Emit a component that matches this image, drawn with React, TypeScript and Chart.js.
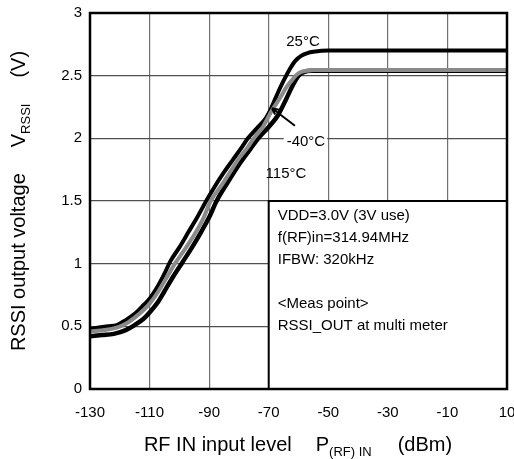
import React, { useEffect, useRef } from "react";
import { Chart, registerables } from "chart.js";

Chart.register(...registerables);

const X_TICKS = [-130, -110, -90, -70, -50, -30, -10, 10];
const Y_TICKS = [0, 0.5, 1, 1.5, 2, 2.5, 3];

// 25°C
const dbm25 = [-130, -127, -124, -121, -118, -115, -112, -110, -107, -105, -103, -100, -97, -94, -91, -88, -85, -82, -79, -77, -74, -71, -69, -67, -65, -63, -61, -59, -57, -55, -50, -40, -20, 0, 10];
const v25 = [0.48, 0.49, 0.5, 0.51, 0.55, 0.6, 0.67, 0.72, 0.83, 0.92, 1.02, 1.13, 1.25, 1.37, 1.5, 1.62, 1.73, 1.83, 1.93, 2.0, 2.08, 2.16, 2.25, 2.36, 2.46, 2.55, 2.62, 2.66, 2.68, 2.69, 2.7, 2.7, 2.7, 2.7, 2.7];

// -40°C
const dbmM40 = [-130, -125, -121, -118, -115, -112, -110, -107, -104, -101.5, -98, -95, -92, -89.5, -86, -83, -80, -77, -75, -72, -69, -66, -64, -62, -60.5, -59, -57, -55, -50, -30, -10, 10];
const vM40 = [0.46, 0.47, 0.49, 0.52, 0.57, 0.63, 0.68, 0.78, 0.9, 1.0, 1.12, 1.23, 1.36, 1.5, 1.62, 1.73, 1.84, 1.93, 2.0, 2.09, 2.22, 2.33, 2.41, 2.47, 2.51, 2.53, 2.54, 2.545, 2.545, 2.545, 2.545, 2.545];

// 115°C
const dbm115 = [-130, -126, -122, -118, -115, -112, -110, -107, -105, -102, -99, -96, -93, -90, -87.5, -84, -80, -76, -73.5, -70, -67, -64, -62, -60, -58, -56, -50, -30, -10, 10];
const v115 = [0.42, 0.43, 0.44, 0.47, 0.51, 0.56, 0.61, 0.7, 0.78, 0.9, 1.01, 1.12, 1.24, 1.37, 1.5, 1.64, 1.79, 1.92, 2.0, 2.09, 2.18, 2.32, 2.42, 2.5, 2.53, 2.54, 2.54, 2.54, 2.54, 2.54];

const BOX_LINES = ["VDD=3.0V (3V use)", "f(RF)in=314.94MHz", "IFBW: 320kHz", "", "<Meas point>", "RSSI_OUT at multi meter"];
const BOX_RANGE = { xMin: -70, xMax: 10, yMin: 0, yMax: 1.5 };

const LABEL_25 = { text: "25°C", x: -58.5, y: 2.77 };
const LABEL_M40 = { text: "-40°C", x: -57.5, y: 1.97 };
const LABEL_115 = { text: "115°C", x: -64.2, y: 1.72 };
const ARROW = { fromX: -61.2, fromY: 2.1, toX: -68.9, toY: 2.24 };

const FONT = "'Liberation Sans', Arial, Helvetica, sans-serif";

const pts = (xs: number[], ys: number[]) => xs.map((x, i) => ({ x, y: ys[i] }));

const overlay = {
  id: "overlay",
  afterDraw(chart: any) {
    const { ctx, chartArea: ca, scales } = chart;
    const xs = scales.x;
    const ys = scales.y;
    ctx.save();

    // info box
    const bx0 = xs.getPixelForValue(BOX_RANGE.xMin);
    const bx1 = xs.getPixelForValue(BOX_RANGE.xMax);
    const by0 = ys.getPixelForValue(BOX_RANGE.yMax);
    const by1 = ys.getPixelForValue(BOX_RANGE.yMin);
    ctx.fillStyle = "#fff";
    ctx.fillRect(bx0, by0, bx1 - bx0, by1 - by0);
    ctx.strokeStyle = "#000";
    ctx.lineWidth = 2;
    ctx.strokeRect(bx0, by0, bx1 - bx0, by1 - by0);
    ctx.fillStyle = "#000";
    ctx.font = `15px ${FONT}`;
    ctx.textBaseline = "middle";
    ctx.textAlign = "left";
    BOX_LINES.forEach((t, i) => {
      if (t) ctx.fillText(t, bx0 + 9, by0 + 15 + i * 22);
    });

    // labels
    const drawLabel = (l: any, bg: boolean) => {
      const px = xs.getPixelForValue(l.x);
      const py = ys.getPixelForValue(l.y);
      ctx.font = `15px ${FONT}`;
      const w = ctx.measureText(l.text).width;
      if (bg) {
        ctx.fillStyle = "#fff";
        ctx.fillRect(px - w / 2 - 3, py - 8, w + 5, 16);
      }
      ctx.fillStyle = "#000";
      ctx.textAlign = "center";
      ctx.textBaseline = "middle";
      ctx.fillText(l.text, px, py);
    };
    drawLabel(LABEL_25, false);
    drawLabel(LABEL_M40, true);
    drawLabel(LABEL_115, false);

    // arrow
    const ax0 = xs.getPixelForValue(ARROW.fromX);
    const ay0 = ys.getPixelForValue(ARROW.fromY);
    const ax1 = xs.getPixelForValue(ARROW.toX);
    const ay1 = ys.getPixelForValue(ARROW.toY);
    ctx.strokeStyle = "#000";
    ctx.lineWidth = 2;
    ctx.beginPath();
    ctx.moveTo(ax0, ay0);
    ctx.lineTo(ax1, ay1);
    const ang = Math.atan2(ay1 - ay0, ax1 - ax0);
    const hl = 7;
    ctx.moveTo(ax1, ay1);
    ctx.lineTo(ax1 - hl * Math.cos(ang - 0.45), ay1 - hl * Math.sin(ang - 0.45));
    ctx.moveTo(ax1, ay1);
    ctx.lineTo(ax1 - hl * Math.cos(ang + 0.45), ay1 - hl * Math.sin(ang + 0.45));
    ctx.stroke();

    // frame
    ctx.lineWidth = 2.5;
    ctx.strokeStyle = "#000";
    ctx.strokeRect(ca.left, ca.top, ca.right - ca.left, ca.bottom - ca.top);

    // titles
    const big = `20px ${FONT}`;
    const small = `13px ${FONT}`;
    const layoutParts = (parts: any[]) => {
      let total = 0;
      parts.forEach((p) => {
        ctx.font = p.f;
        p.w = ctx.measureText(p.t).width;
        total += p.w + p.gap;
      });
      return total;
    };
    ctx.fillStyle = "#000";
    ctx.textAlign = "left";
    ctx.textBaseline = "alphabetic";

    const xParts = [
      { t: "RF IN input level", f: big, dy: 0, gap: 24 },
      { t: "P", f: big, dy: 0, gap: 0 },
      { t: "(RF) IN", f: small, dy: 5, gap: 26 },
      { t: "(dBm)", f: big, dy: 0, gap: 0 },
    ];
    let tot = layoutParts(xParts);
    let cx = 298 - tot / 2;
    xParts.forEach((p: any) => {
      ctx.font = p.f;
      ctx.fillText(p.t, cx, 451 + p.dy);
      cx += p.w + p.gap;
    });

    const yParts = [
      { t: "RSSI output voltage", f: big, dy: 0, gap: 26 },
      { t: "V", f: big, dy: 0, gap: 0 },
      { t: "RSSI", f: small, dy: 5, gap: 26 },
      { t: "(V)", f: big, dy: 0, gap: 0 },
    ];
    tot = layoutParts(yParts);
    ctx.translate(25, 201);
    ctx.rotate(-Math.PI / 2);
    cx = -tot / 2;
    yParts.forEach((p: any) => {
      ctx.font = p.f;
      ctx.fillText(p.t, cx, p.dy);
      cx += p.w + p.gap;
    });

    ctx.restore();
  },
};

export default function App() {
  const ref = useRef<HTMLCanvasElement>(null);
  useEffect(() => {
    if (!ref.current) return;
    const chart = new Chart(ref.current, {
      type: "line",
      data: {
        datasets: [
          {
            label: "-40°C",
            data: pts(dbmM40, vM40),
            borderColor: "#8a8a8a",
            borderWidth: 4,
            pointRadius: 0,
            cubicInterpolationMode: "monotone",
            order: 0,
          },
          {
            label: "25°C",
            data: pts(dbm25, v25),
            borderColor: "#000",
            borderWidth: 4,
            pointRadius: 0,
            cubicInterpolationMode: "monotone",
            order: 1,
          },
          {
            label: "115°C",
            data: pts(dbm115, v115),
            borderColor: "#000",
            borderWidth: 4.5,
            pointRadius: 0,
            cubicInterpolationMode: "monotone",
            order: 2,
          },
        ],
      },
      options: {
        responsive: false,
        animation: false,
        parsing: false,
        layout: { padding: { top: 13, right: 7, left: 0, bottom: 0 } },
        plugins: { legend: { display: false }, tooltip: { enabled: false } },
        scales: {
          x: {
            type: "linear",
            min: -130,
            max: 10,
            afterBuildTicks: (s: any) => {
              s.ticks = X_TICKS.map((v) => ({ value: v }));
            },
            afterFit: (s: any) => {
              s.height = 70;
              s.paddingLeft = 0;
              s.paddingRight = 0;
            },
            grid: { color: "#707070", lineWidth: 1.2, drawTicks: false },
            border: { display: false },
            ticks: {
              color: "#000",
              font: { family: FONT, size: 15 },
              padding: 15,
              maxRotation: 0,
              autoSkip: false,
            },
          },
          y: {
            type: "linear",
            min: 0,
            max: 3,
            afterBuildTicks: (s: any) => {
              s.ticks = Y_TICKS.map((v) => ({ value: v }));
            },
            afterFit: (s: any) => {
              s.width = 90;
              s.paddingTop = 0;
              s.paddingBottom = 0;
            },
            grid: { color: "#505050", lineWidth: 1.2, drawTicks: false },
            border: { display: false },
            ticks: {
              color: "#000",
              font: { family: FONT, size: 15 },
              padding: 8,
              callback: (v: any) => String(v),
            },
          },
        },
      },
      plugins: [overlay],
    } as any);
    return () => chart.destroy();
  }, []);
  return (
    <div style={{ position: "absolute", left: 0, top: 0, width: 514, height: 459, background: "#fff" }}>
      <canvas ref={ref} width={514} height={459} style={{ display: "block", width: 514, height: 459 }} />
    </div>
  );
}
